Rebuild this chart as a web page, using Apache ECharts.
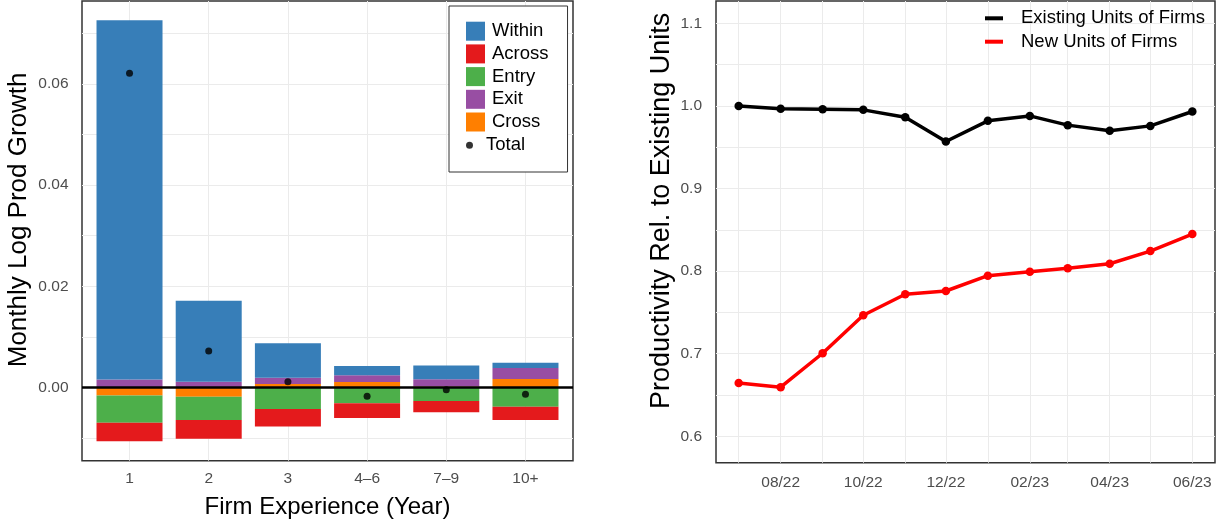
<!DOCTYPE html>
<html>
<head>
<meta charset="utf-8">
<script src="https://cdn.jsdelivr.net/npm/echarts@6/dist/echarts.min.js"></script>
<style>
  html, body { margin: 0; padding: 0; background: #fff; }
  #chart { width: 1225px; height: 525px; }
</style>
</head>
<body>
<div id="chart"></div>
<script>
// left panel: decomposition by firm experience
var experience = ['1', '2', '3', '4–6', '7–9', '10+']
var within = [0.0710, 0.0160, 0.0068, 0.00184, 0.0027, 0.00105]
var across = [-0.00368, -0.0037, -0.00343, -0.0029, -0.00224, -0.00263]
var entry = [-0.00535, -0.00461, -0.00426, -0.00313, -0.00267, -0.0038]
var exit = [0.0016, 0.00115, 0.00125, 0.00133, 0.00143, 0.00218]
var cross = [-0.0016, -0.00182, 0.0007, 0.00109, 0.0002, 0.00168]
var total = [0.0621, 0.0072, 0.00115, -0.00174, -0.00044, -0.00135]
var leftYLabels = [0, 0.02, 0.04, 0.06]
var leftYGrid = [-0.01, 0, 0.01, 0.02, 0.03, 0.04, 0.05, 0.06, 0.07]

// right panel: productivity relative to existing units
var months = ['2022-07-01', '2022-08-01', '2022-09-01', '2022-10-01', '2022-11-01', '2022-12-01',
  '2023-01-01', '2023-02-01', '2023-03-01', '2023-04-01', '2023-05-01', '2023-06-01']
var existing = [1.000, 0.9964, 0.9960, 0.9952, 0.9863, 0.9569, 0.9819, 0.9879, 0.9767, 0.9698, 0.9758, 0.9932]
var newUnits = [0.6646, 0.6594, 0.7005, 0.7465, 0.7719, 0.7759, 0.7944, 0.7992, 0.8033, 0.8089, 0.8242, 0.8448]
var monthLabels = ['2022-08-01', '2022-10-01', '2022-12-01', '2023-02-01', '2023-04-01', '2023-06-01']
var rightYLabels = [0.6, 0.7, 0.8, 0.9, 1.0, 1.1]
var rightYGrid = [0.6, 0.65, 0.7, 0.75, 0.8, 0.85, 0.9, 0.95, 1.0, 1.05, 1.1]

var font = 'Liberation Sans, Arial, Helvetica, sans-serif'
var labelColor = '#4D4D4D'
var gridColor = '#EBEBEB'

function toTime(s) {
  var p = s.split('-').map(Number)
  return new Date(p[0], p[1] - 1, p[2]).getTime()
}
function pad(n) { return n < 10 ? '0' + n : '' + n }

var xs = experience.map(function(_, i) { return i + 1 })
function pairs(vals) { return vals.map(function(v, i) { return [xs[i], v] }) }
// value first so echarts stacks the y dimension (both axes are value axes)
function stackPairs(vals) { return vals.map(function(v, i) { return [v, xs[i]] }) }

var ts = months.map(toTime)
var tSpan = ts[ts.length - 1] - ts[0]

function stackBar(name, vals, color, extra) {
  var s = {
    name: name,
    type: 'bar',
    stack: 'decomp',
    xAxisIndex: 0,
    yAxisIndex: 0,
    barWidth: 66,
    encode: { x: 1, y: 0 },
    data: stackPairs(vals),
    itemStyle: { color: color },
    emphasis: { disabled: true }
  }
  return Object.assign(s, extra || {})
}

var chart = echarts.init(document.getElementById('chart'), null, { renderer: 'canvas' })

chart.setOption({
  animation: false,
  textStyle: { fontFamily: font },
  grid: [
    { left: 82, top: 1, width: 491, height: 459.7, show: true, borderColor: '#333333', borderWidth: 1.5, backgroundColor: '#fff' },
    { left: 716, top: 1, width: 499, height: 461.7, show: true, borderColor: '#333333', borderWidth: 1.5, backgroundColor: '#fff' }
  ],
  legend: [
    {
      data: ['Within', 'Across', 'Entry', 'Exit', 'Cross'],
      orient: 'vertical',
      left: 449,
      top: 6,
      padding: [15.7, 19, 40.5, 17],
      itemWidth: 19,
      itemHeight: 19,
      itemGap: 3.7,
      icon: 'rect',
      selectedMode: false,
      borderColor: '#333333',
      borderWidth: 1,
      backgroundColor: '#fff',
      textStyle: { fontSize: 18.5, lineHeight: 19, color: '#000', fontFamily: font, padding: [0, 0, 0, 2] }
    },
    {
      data: ['Total'],
      orient: 'vertical',
      left: 466,
      top: 135.8,
      padding: 0,
      itemWidth: 19,
      itemHeight: 7,
      icon: 'circle',
      selectedMode: false,
      textStyle: { fontSize: 18.5, lineHeight: 19, color: '#000', fontFamily: font, padding: [0, 0, 0, 2] }
    },
    {
      data: ['Existing Units of Firms', 'New Units of Firms'],
      orient: 'vertical',
      left: 985,
      top: 8.8,
      padding: 0,
      itemWidth: 18,
      itemHeight: 4,
      itemGap: 4.4,
      icon: 'rect',
      selectedMode: false,
      textStyle: { fontSize: 18.5, lineHeight: 19, color: '#000', fontFamily: font, padding: [0, 0, 0, 13] }
    }
  ],
  xAxis: [
    {
      gridIndex: 0,
      type: 'value',
      min: 0.4,
      max: 6.6,
      name: 'Firm Experience (Year)',
      nameLocation: 'middle',
      nameGap: 35,
      nameTextStyle: { fontSize: 24, color: '#000', fontFamily: font },
      axisLine: { show: false },
      axisTick: { show: false, customValues: xs },
      axisLabel: {
        customValues: xs,
        margin: 10.5,
        fontSize: 15.5,
        color: labelColor,
        fontFamily: font,
        formatter: function(v) { return experience[Math.round(v) - 1] }
      },
      splitLine: { show: true, lineStyle: { color: gridColor, width: 1 } }
    },
    {
      // timestamps on a plain value scale, month ticks given explicitly
      gridIndex: 1,
      type: 'value',
      min: ts[0] - tSpan * 0.05,
      max: ts[ts.length - 1] + tSpan * 0.05,
      axisLine: { show: false },
      axisTick: { show: false, customValues: ts },
      axisLabel: {
        customValues: monthLabels.map(toTime),
        margin: 12,
        fontSize: 15.5,
        color: labelColor,
        fontFamily: font,
        formatter: function(v) {
          var d = new Date(v)
          return pad(d.getMonth() + 1) + '/' + String(d.getFullYear()).slice(2)
        }
      },
      splitLine: { show: true, lineStyle: { color: gridColor, width: 1 } }
    }
  ],
  yAxis: [
    {
      gridIndex: 0,
      type: 'value',
      min: -0.01447,
      max: 0.0764,
      name: 'Monthly Log Prod Growth',
      nameLocation: 'middle',
      nameGap: 50,
      nameTextStyle: { fontSize: 26, color: '#000', fontFamily: font, padding: [0, 0, 0, 22] },
      axisLine: { show: false },
      axisTick: { show: false, customValues: leftYGrid },
      axisLabel: {
        customValues: leftYLabels,
        margin: 13.5,
        fontSize: 15.5,
        color: labelColor,
        fontFamily: font,
        formatter: function(v) { return v.toFixed(2) }
      },
      splitLine: { show: true, lineStyle: { color: gridColor, width: 1 } }
    },
    {
      gridIndex: 1,
      type: 'value',
      min: 0.568,
      max: 1.127,
      name: 'Productivity Rel. to Existing Units',
      nameLocation: 'middle',
      nameGap: 41,
      nameTextStyle: { fontSize: 27, color: '#000', fontFamily: font, padding: [0, 0, 0, 42] },
      axisLine: { show: false },
      axisTick: { show: false, customValues: rightYGrid },
      axisLabel: {
        customValues: rightYLabels,
        margin: 14,
        fontSize: 15.5,
        color: labelColor,
        fontFamily: font,
        formatter: function(v) { return v.toFixed(1) }
      },
      splitLine: { show: true, lineStyle: { color: gridColor, width: 1 } }
    }
  ],
  series: [
    // stack order: first series sits next to zero
    stackBar('Cross', cross, '#FF7F00'),
    stackBar('Exit', exit, '#984EA3'),
    stackBar('Entry', entry, '#4DAF4A'),
    stackBar('Across', across, '#E41A1C'),
    stackBar('Within', within, '#377EB8', {
      markLine: {
        silent: true,
        symbol: ['none', 'none'],
        label: { show: false },
        lineStyle: { color: '#000', width: 2.5, type: 'solid' },
        emphasis: { disabled: true },
        data: [{ yAxis: 0 }]
      }
    }),
    {
      name: 'Total',
      type: 'scatter',
      xAxisIndex: 0,
      yAxisIndex: 0,
      z: 10,
      symbol: 'circle',
      symbolSize: 7,
      itemStyle: { color: '#000' },
      emphasis: { disabled: true },
      data: pairs(total)
    },
    {
      name: 'Existing Units of Firms',
      type: 'line',
      xAxisIndex: 1,
      yAxisIndex: 1,
      symbol: 'circle',
      symbolSize: 8.5,
      lineStyle: { color: '#000', width: 3.5 },
      itemStyle: { color: '#000', borderWidth: 0 },
      emphasis: { disabled: true },
      data: ts.map(function(t, i) { return [t, existing[i]] })
    },
    {
      name: 'New Units of Firms',
      type: 'line',
      xAxisIndex: 1,
      yAxisIndex: 1,
      symbol: 'circle',
      symbolSize: 8.5,
      lineStyle: { color: '#FF0000', width: 3.5 },
      itemStyle: { color: '#FF0000', borderWidth: 0 },
      emphasis: { disabled: true },
      data: ts.map(function(t, i) { return [t, newUnits[i]] })
    }
  ]
})
</script>
</body>
</html>
